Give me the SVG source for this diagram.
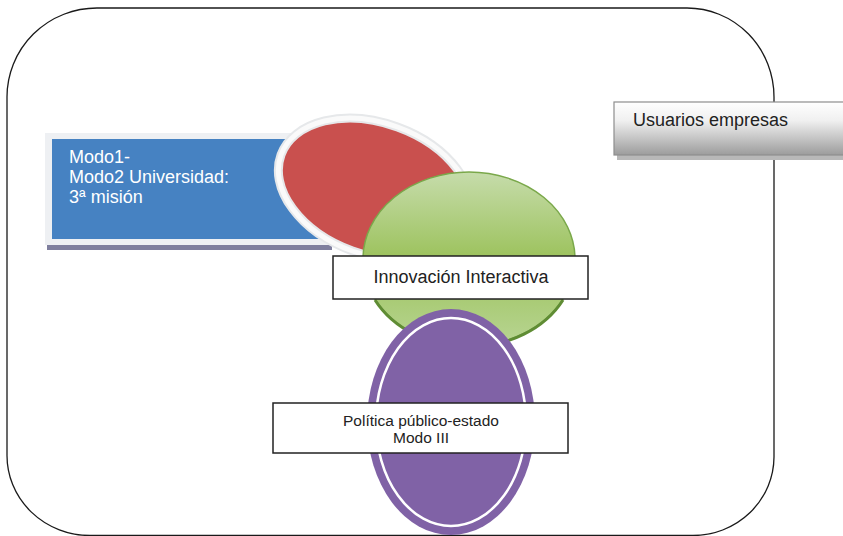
<svg xmlns="http://www.w3.org/2000/svg" width="843" height="536" viewBox="0 0 843 536">
<defs>
<linearGradient id="gGreen" x1="0" y1="0" x2="0" y2="1">
<stop offset="0" stop-color="#c6dcab"/>
<stop offset="0.5" stop-color="#9cc25c"/>
<stop offset="1" stop-color="#b8d593"/>
</linearGradient>
<linearGradient id="gGray" x1="0" y1="0" x2="0" y2="1">
<stop offset="0" stop-color="#ffffff"/>
<stop offset="0.35" stop-color="#f0f0f0"/>
<stop offset="1" stop-color="#9c9c9c"/>
</linearGradient>
<style>
.lbl{font-family:"Liberation Sans",Arial,sans-serif;fill:#222}
.box{fill:#fff;stroke:#222;stroke-width:1.5}
</style>
</defs>
<g id="frame">
<path d="M7,97 A90,89 0 0 1 97,8 L687,8 A87,89 0 0 1 774,97 L774,457 A81,79 0 0 1 693,535.5 L90,535.5 A83,80 0 0 1 7,455 Z" fill="none" stroke="#1a1a1a" stroke-width="1.3"/>
</g>
<g id="modo">
<rect x="47" y="244" width="285" height="6" fill="#7f7f9e"/>
<rect x="45" y="133" width="290" height="112" fill="#eef0f3"/>
<rect x="52" y="139" width="282" height="100" fill="#4682c2"/>
<text class="lbl" style="fill:#fff" font-size="18"><tspan x="69" y="163">Modo1-</tspan><tspan x="69" y="183">Modo2 Universidad:</tspan><tspan x="69" y="203">3ª misión</tspan></text>
</g>
<g id="red">
<ellipse cx="375" cy="189" rx="100" ry="66" transform="rotate(20 375 189)" fill="#c9504e" stroke="#e6e8ea" stroke-width="9"/>
<ellipse cx="375" cy="189" rx="100" ry="66" transform="rotate(20 375 189)" fill="none" stroke="#fafafa" stroke-width="5"/>
</g>
<g id="green">
<ellipse cx="469" cy="259" rx="106" ry="87" fill="url(#gGreen)" stroke="#7aa84a" stroke-width="1.5"/>
<path d="M375,300 A106,87 0 0 0 563,300" fill="none" stroke="#5f8c34" stroke-width="3"/>
</g>
<g id="innovacion">
<rect class="box" x="333" y="256" width="255" height="43"/>
<text class="lbl" x="461" y="283" font-size="18" text-anchor="middle">Innovación Interactiva</text>
</g>
<g id="purple">
<ellipse cx="451" cy="422" rx="84" ry="113" fill="#8062a6"/>
<ellipse cx="451" cy="422" rx="75" ry="104" fill="none" stroke="#fff" stroke-width="2.5"/>
</g>
<g id="politica">
<rect class="box" x="273" y="403" width="295" height="50"/>
<text class="lbl" font-size="15.5" text-anchor="middle"><tspan x="421" y="426">Política público-estado</tspan><tspan x="421" y="443">Modo III</tspan></text>
</g>
<g id="usuarios">
<rect x="617" y="155" width="240" height="5" fill="#b8b8b8"/>
<rect x="614" y="102" width="240" height="53" fill="url(#gGray)" stroke="#8e8e8e" stroke-width="1.2"/>
<text class="lbl" x="633" y="126" font-size="18">Usuarios empresas</text>
</g>
</svg>
